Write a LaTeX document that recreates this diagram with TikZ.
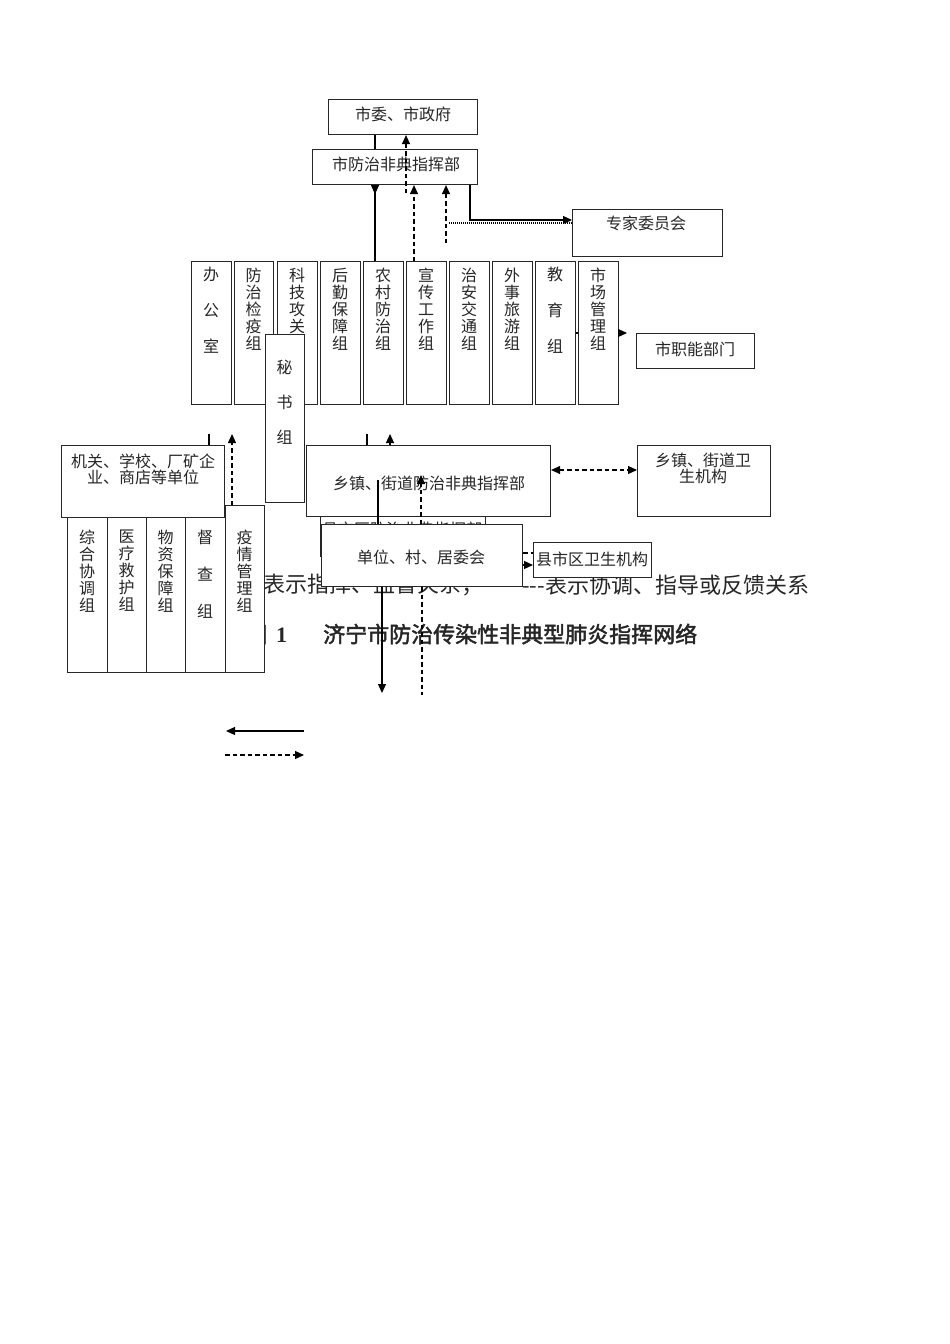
\documentclass[tikz,border=0pt]{standalone}
\usepackage{fontspec}
\newfontfamily\cjk{Noto Sans CJK SC}
\newfontfamily\cjkbold[FakeBold=2]{Noto Sans CJK SC}
\newfontfamily\tms{Liberation Serif}
\usetikzlibrary{arrows.meta}
\begin{document}
\begin{tikzpicture}[x=1pt,y=-1pt,
  bx/.style={draw=black!85, fill=white, line width=1.1pt, inner sep=0pt, anchor=north west},
  tx/.style={inner sep=0pt, font=\cjk\fontsize{16}{16}\selectfont, align=center, text=black!85},
  vt/.style={tx, anchor=north, text width=18pt, font=\cjk\fontsize{16}{17}\selectfont},
  vtw/.style={tx, anchor=north, text width=18pt, font=\cjk\fontsize{16}{36}\selectfont},
  ln/.style={draw=black, line width=1.1pt},
  dsh/.style={dash pattern=on 4.5pt off 3pt},
  dot/.style={dash pattern=on 1pt off 1pt},
  ar/.style={-{Triangle[length=9pt,width=8pt]}},
  big/.style={inner sep=0pt, anchor=west, font=\cjk\fontsize{22}{24}\selectfont, text=black!85}
]
\useasboundingbox (0,0) rectangle (950,1344);

% legend and title (underneath)
\node[big] (lg1) at (263,585) {表示指挥、监督关系；};
\node[big] (lg2) at (522,585) {---表示协调、指导或反馈关系};
\node[big, font=\cjkbold\fontsize{22}{24}\selectfont] (title) at (245,634)
  {图\hspace{9pt}{\tms\bfseries 1}\hspace{36pt}济宁市防治传染性非典型肺炎指挥网络};

% top boxes
\node[bx, minimum width=149, minimum height=35] (sw) at (328,99) {};
\node[tx] (swt) at (403,114) {市委、市政府};
\node[bx, minimum width=165, minimum height=35] (zhb) at (312,149) {};
\node[tx] (zhbt) at (396,164) {市防治非典指挥部};
\node[bx, minimum width=150, minimum height=47] (zj) at (572,209) {};
\node[tx] (zjt) at (646,223) {专家委员会};
\node[bx, minimum width=118, minimum height=35] (zn) at (636,333) {};
\node[tx] (znt) at (695,349) {市职能部门};

% columns
\node[bx, minimum width=40, minimum height=143] (c1) at (191,261) {};
\node[vtw] (c1t) at (211,267) {办\\公\\室};
\node[bx, minimum width=39, minimum height=143] (c2) at (234,261) {};
\node[vt] (c2t) at (253.5,268) {防\\治\\检\\疫\\组};
\node[bx, minimum width=40, minimum height=143] (c3) at (277,261) {};
\node[vt] (c3t) at (297,268) {科\\技\\攻\\关\\组};
\node[bx, minimum width=40, minimum height=143] (c4) at (320,261) {};
\node[vt] (c4t) at (340,268) {后\\勤\\保\\障\\组};
\node[bx, minimum width=40, minimum height=143] (c5) at (363,261) {};
\node[vt] (c5t) at (383,268) {农\\村\\防\\治\\组};
\node[bx, minimum width=40, minimum height=143] (c6) at (406,261) {};
\node[vt] (c6t) at (426,268) {宣\\传\\工\\作\\组};
\node[bx, minimum width=40, minimum height=143] (c7) at (449,261) {};
\node[vt] (c7t) at (469,268) {治\\安\\交\\通\\组};
\node[bx, minimum width=40, minimum height=143] (c8) at (492,261) {};
\node[vt] (c8t) at (512,268) {外\\事\\旅\\游\\组};
\node[bx, minimum width=40, minimum height=143] (c9) at (535,261) {};
\node[vtw] (c9t) at (555,267) {教\\育\\组};
\node[bx, minimum width=40, minimum height=143] (c10) at (578,261) {};
\node[vt] (c10t) at (598,268) {市\\场\\管\\理\\组};

% secretary
\node[bx, minimum width=39, minimum height=168] (ms) at (265,334) {};
\node[vtw, font=\cjk\fontsize{16}{35}\selectfont] (mst) at (284.5,360) {秘\\书\\组};

% left units
\node[bx, minimum width=163, minimum height=72] (jg) at (61,445) {};
\node[tx] (jgt) at (143,469) {机关、学校、厂矿企\\业、商店等单位};
\node[bx, minimum width=40, minimum height=155] (b1) at (67,517) {};
\node[vt] (b1t) at (87,530) {综\\合\\协\\调\\组};
\node[bx, minimum width=39, minimum height=155] (b2) at (107,517) {};
\node[vt] (b2t) at (126.5,530) {医\\疗\\救\\护\\组};
\node[bx, minimum width=39, minimum height=155] (b3) at (146,517) {};
\node[vt] (b3t) at (165.5,530) {物\\资\\保\\障\\组};
\node[bx, minimum width=40, minimum height=155] (b4) at (185,517) {};
\node[vtw, font=\cjk\fontsize{16}{37}\selectfont] (b4t) at (205,530) {督\\查\\组};
\node[bx, minimum width=39, minimum height=167] (b5) at (225,505) {};
\node[vt] (b5t) at (244.5,530) {疫\\情\\管\\理\\组};

% town level
\node[bx, minimum width=244, minimum height=71] (xz) at (306,445) {};
\node[tx] (xzt) at (429,483) {乡镇、街道防治非典指挥部};
\node[bx, minimum width=133, minimum height=71] (xw) at (637,445) {};
\node[tx] (xwt) at (703,468) {乡镇、街道卫\\生机构};
\node[bx, minimum width=165, minimum height=40] (xs) at (320,516) {};
\node[tx] (xst) at (402,529) {县市区防治非典指挥部};
\coordinate (p378) at (378,480);
\coordinate (p421) at (421,475);
\draw[ln] (p378) -- (378,524);
\draw[ln, dsh, ar] (421,524) -- (p421);
\node[bx, minimum width=201, minimum height=62] (dw) at (321,524) {};
\node[tx] (dwt) at (421,557) {单位、村、居委会};
\node[bx, minimum width=118, minimum height=35] (xsw) at (533,542) {};
\node[tx] (xswt) at (592,559) {县市区卫生机构};

% connectors top
\coordinate (d406) at (406,193);
\coordinate (d446) at (446,243);
\coordinate (e470) at (470,220);
\coordinate (s449) at (449,223);
\coordinate (a627) at (627,333);
\draw[ln] (375,0 |- sw.south) -- (375,0 |- zhb.north);
\draw[ln, dsh, ar] (d406) -- (406,0 |- sw.south);
\draw[ln, {Triangle[length=9pt,width=8pt,reversed]}-] (375,0 |- zhb.south) -- (375,0 |- c5.north);
\draw[ln, dsh, ar] (414,0 |- c6.north) -- (414,0 |- zhb.south);
\draw[ln, dsh, ar] (d446) -- (446,0 |- zhb.south);
\draw[ln, ar] (470,0 |- zhb.south) -- (e470) -- (zj.west |- e470);
\draw[ln, dot] (s449) -- (zj.west |- s449);
\draw[ln] (c9.east |- a627) -- (c10.west |- a627);
\draw[ln, ar] (c10.east |- a627) -- (a627);

% connectors middle
\coordinate (t209) at (209,434);
\coordinate (t232) at (232,434);
\coordinate (t367) at (367,434);
\coordinate (t390) at (390,434);
\draw[ln] (t209) -- (jg.north -| t209);
\draw[ln, dsh, ar] (b5.north -| t232) -- (t232);
\draw[ln] (t367) -- (xz.north -| t367);
\draw[ln, ar] (xz.north -| t390) -- (t390);
\draw[ln, dsh, {Triangle[length=9pt,width=8pt]}-{Triangle[length=9pt,width=8pt]}] (xz.east |- 0,470) -- (xw.west |- 0,470);

% connectors bottom
\coordinate (b382) at (382,693);
\coordinate (b422) at (422,695);
\draw[ln, ar] (dw.south -| b382) -- (b382);
\draw[ln, dsh] (dw.south -| b422) -- (b422);
\draw[ln, ar] (dw.east |- 0,565) -- (xsw.west |- 0,565);
\draw[ln, dsh] (dw.east |- 0,553) -- (xsw.west |- 0,553);

% legend arrows
\coordinate (l1a) at (304,731);
\coordinate (l1b) at (226,731);
\coordinate (l2a) at (225,755);
\coordinate (l2b) at (304,755);
\draw[ln, ar] (l1a) -- (l1b);
\draw[ln, dsh, ar] (l2a) -- (l2b);
\end{tikzpicture}
\end{document}
